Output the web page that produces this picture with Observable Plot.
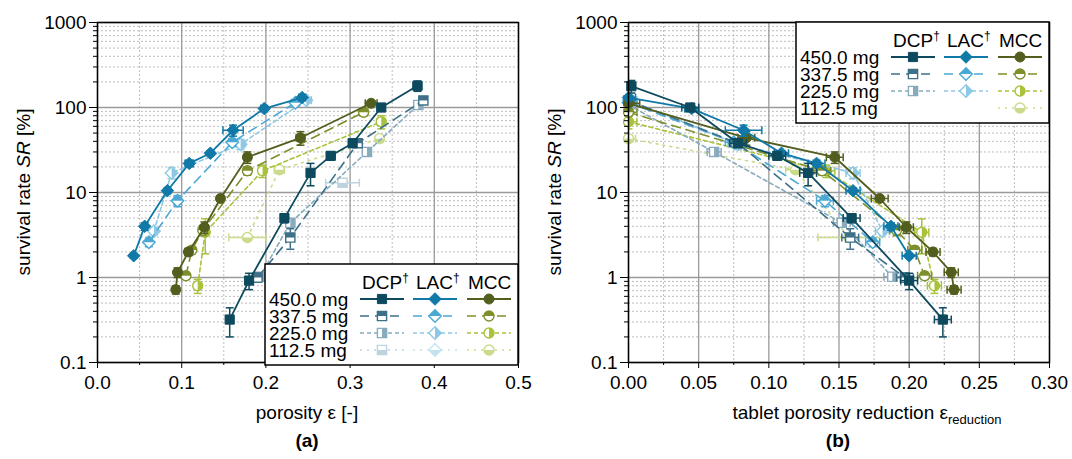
<!DOCTYPE html>
<html><head><meta charset="utf-8">
<script src="https://cdn.jsdelivr.net/npm/d3@7"></script>
<script src="https://cdn.jsdelivr.net/npm/@observablehq/plot@0.6"></script>
<style>
body{margin:0;background:#fff;}
#wrap{display:flex;width:1072px;height:459px;}
#wrap svg{font-family:"Liberation Sans",Arial,sans-serif;display:block;}
</style></head><body><div id="wrap"></div>
<script>
// ---------- data: [x, y, xErr, yErr] ----------
// panel (a): porosity
const A_DCP_450 = [[0.157,0.32,0.004,0.12],[0.180,0.92,0.004,0.2],[0.222,5.0,0.004,0.6],[0.253,17,0.004,5],[0.277,27,0.005,3],[0.303,38,0.004,4],[0.337,100,0.004,5],[0.380,180,0.005,25]];
const A_DCP_338 = [[0.190,1.0,0.004,0.12],[0.229,2.95,0.004,0.8],[0.309,38,0.004,4],[0.387,121,0.004,12]];
const A_DCP_225 = [[0.193,1.02,0.004,0.1],[0.229,4.4,0.005,0.4],[0.320,30,0.004,2],[0.381,107,0.004,8]];
const A_DCP_113 = [[0.291,13,0.02,1.2]];
const A_LAC_450 = [[0.043,1.8,0.002,0.1],[0.056,4.0,0.003,0.4],[0.083,10.5,0.003,0.8],[0.109,22,0.005,2],[0.134,29,0.003,2],[0.161,54,0.012,8],[0.198,97,0.004,5],[0.243,131,0.004,10]];
const A_LAC_338 = [[0.061,2.6,0.003,0.3],[0.095,8,0.004,1.2],[0.160,39,0.004,4],[0.235,114,0.005,8]];
const A_LAC_225 = [[0.067,3.5,0.003,0.3],[0.088,17,0.003,2.5],[0.170,37,0.005,5],[0.248,122,0.006,8]];
const A_LAC_113 = [];
const A_MCC_450 = [[0.093,0.72,0.003,0.08],[0.095,1.15,0.003,0.15],[0.108,2.0,0.004,0.2],[0.127,3.9,0.003,0.6],[0.146,8.5,0.003,0.6],[0.178,26,0.004,4],[0.241,44,0.005,8],[0.325,112,0.007,8]];
const A_MCC_338 = [[0.105,1.05,0.003,0.1],[0.112,2.1,0.003,0.2],[0.125,3.6,0.003,0.5],[0.178,18,0.004,2],[0.316,88,0.005,8]];
const A_MCC_225 = [[0.119,0.8,0.004,0.15],[0.128,3.4,0.003,1.5],[0.196,18,0.004,3],[0.337,68,0.005,12]];
const A_MCC_113 = [[0.178,2.95,0.022,0.2],[0.216,18.5,0.006,1.5],[0.335,43,0.004,4]];
// panel (b): tablet porosity reduction
const B_DCP_450 = [[0.002,178,0.003,30],[0.044,100,0.006,5],[0.078,38,0.006,4],[0.106,27,0.006,3],[0.128,17,0.006,5],[0.159,5.0,0.006,0.6],[0.200,0.92,0.006,0.2],[0.224,0.32,0.006,0.12]];
const B_DCP_338 = [[0.0,121,0.004,12],[0.078,38,0.005,4],[0.158,2.95,0.006,0.8],[0.197,1.0,0.006,0.12]];
const B_DCP_225 = [[0.0,107,0.004,8],[0.061,30,0.005,2],[0.152,4.4,0.006,0.4],[0.188,1.02,0.006,0.1]];
const B_LAC_450 = [[0.0,131,0.005,10],[0.045,97,0.005,5],[0.082,54,0.013,8],[0.109,29,0.005,2],[0.134,22,0.006,2],[0.160,10.5,0.005,0.8],[0.187,4.0,0.005,0.4],[0.200,1.8,0.005,0.1]];
const B_LAC_338 = [[0.0,114,0.006,8],[0.075,39,0.006,4],[0.140,8,0.006,1.2],[0.174,2.6,0.005,0.3]];
const B_LAC_225 = [[0.0,122,0.006,8],[0.078,37,0.007,5],[0.160,17,0.005,2.5],[0.181,3.5,0.005,0.3]];
const B_MCC_450 = [[0.0,112,0.008,8],[0.084,44,0.006,8],[0.147,26,0.006,4],[0.179,8.5,0.006,0.6],[0.198,3.9,0.005,0.6],[0.217,2.0,0.005,0.2],[0.230,1.15,0.005,0.15],[0.232,0.72,0.005,0.08]];
const B_MCC_338 = [[0.0,88,0.006,8],[0.138,18,0.006,2],[0.191,3.6,0.005,0.5],[0.204,2.1,0.005,0.2],[0.211,1.05,0.005,0.1]];
const B_MCC_225 = [[0.0,68,0.006,12],[0.141,18,0.006,3],[0.209,3.4,0.005,1.5],[0.218,0.8,0.005,0.15]];
const B_MCC_113 = [[0.0,43,0.005,4],[0.119,18.5,0.007,1.5],[0.157,2.95,0.022,0.2]];

// ---------- categories & tick labels ----------
const materials = ["DCP","LAC","MCC"];
const materialLabels = ["DCP","LAC","MCC"];
const materialDagger = [true,true,false];
const masses = ["450.0 mg","337.5 mg","225.0 mg","112.5 mg"];
const yTicks = [0.1,1,10,100,1000];
const yTickLabels = ["0.1","1","10","100","1000"];
const xTicksA = [0,0.1,0.2,0.3,0.4,0.5];
const xTickLabelsA = ["0.0","0.1","0.2","0.3","0.4","0.5"];
const xMinorA = [0.05,0.15,0.25,0.35,0.45];
const xTicksB = [0,0.05,0.1,0.15,0.2,0.25,0.3];
const xTickLabelsB = ["0.00","0.05","0.10","0.15","0.20","0.25","0.30"];
const xMinorB = [0.025,0.075,0.125,0.175,0.225,0.275];

// ---------- styles ----------
const COLORS = {DCP:["#0e4a5e","#3e7189","#88abbd","#bdd3dd"], LAC:["#1079a8","#4ba8d4","#8dc9e4","#c4e3f0"], MCC:["#525e1d","#7d902c","#a8c23c","#cbdb8c"]};
const DASH = [null,"9,6","4,3","2,5"];
const SHAPE = {DCP:"square", LAC:"diamond", MCC:"circle"};
const PART = ["full","top","right","bottom"];

const minorY = [];
for (const d of [0.1,1,10,100]) for (let k=2;k<=9;k++) minorY.push(+(d*k).toPrecision(3));

function sym(shape, part){
  return {draw(ctx, size){
    const r = Math.sqrt(size/Math.PI);
    if (shape==="square"){
      const s = r*0.92;
      if (part==="full") ctx.rect(-s,-s,2*s,2*s);
      else if (part==="top") ctx.rect(-s,-s,2*s,s);
      else if (part==="bottom") ctx.rect(-s,0,2*s,s);
      else ctx.rect(0,-s,s,2*s);
    } else if (shape==="diamond"){
      const d = r*1.25;
      if (part==="full"){ctx.moveTo(0,-d);ctx.lineTo(d,0);ctx.lineTo(0,d);ctx.lineTo(-d,0);ctx.closePath();}
      else if (part==="top"){ctx.moveTo(-d,0);ctx.lineTo(0,-d);ctx.lineTo(d,0);ctx.closePath();}
      else if (part==="bottom"){ctx.moveTo(-d,0);ctx.lineTo(0,d);ctx.lineTo(d,0);ctx.closePath();}
      else {ctx.moveTo(0,-d);ctx.lineTo(d,0);ctx.lineTo(0,d);ctx.closePath();}
    } else {
      if (part==="full"){ctx.moveTo(r,0);ctx.arc(0,0,r,0,2*Math.PI);}
      else if (part==="top"){ctx.moveTo(-r,0);ctx.arc(0,0,r,Math.PI,2*Math.PI);ctx.closePath();}
      else if (part==="bottom"){ctx.moveTo(r,0);ctx.arc(0,0,r,0,Math.PI);ctx.closePath();}
      else {ctx.moveTo(0,-r);ctx.arc(0,0,r,-Math.PI/2,Math.PI/2);ctx.closePath();}
    }
  }};
}
const hcap = {draw(ctx,size){const w=Math.sqrt(size/Math.PI);ctx.moveTo(-w,0);ctx.lineTo(w,0);}};
const vcap = {draw(ctx,size){const w=Math.sqrt(size/Math.PI);ctx.moveTo(0,-w);ctx.lineTo(0,w);}};

function seriesMarks(data, mat, mi){
  const c = COLORS[mat][mi];
  const X = d=>d[0], Y = d=>d[1];
  const m = [];
  m.push(Plot.line(data,{x:X,y:Y,stroke:c,strokeWidth:mi===0?1.8:1.6,strokeDasharray:DASH[mi],clip:true}));
  m.push(Plot.ruleX(data,{x:X,y1:d=>d[1]-d[3],y2:d=>d[1]+d[3],stroke:c,strokeWidth:1.5,clip:true}));
  m.push(Plot.ruleY(data,{y:Y,x1:d=>d[0]-d[2],x2:d=>d[0]+d[2],stroke:c,strokeWidth:1.5,clip:true}));
  m.push(Plot.dot(data,{x:X,y:d=>d[1]-d[3],symbol:hcap,r:4,stroke:c,fill:"none",strokeWidth:1.5,clip:true}));
  m.push(Plot.dot(data,{x:X,y:d=>d[1]+d[3],symbol:hcap,r:4,stroke:c,fill:"none",strokeWidth:1.5,clip:true}));
  m.push(Plot.dot(data,{x:d=>d[0]-d[2],y:Y,symbol:vcap,r:4,stroke:c,fill:"none",strokeWidth:1.5,clip:true}));
  m.push(Plot.dot(data,{x:d=>d[0]+d[2],y:Y,symbol:vcap,r:4,stroke:c,fill:"none",strokeWidth:1.5,clip:true}));
  const shape = SHAPE[mat], part = PART[mi];
  if (part==="full"){
    m.push(Plot.dot(data,{x:X,y:Y,symbol:sym(shape,"full"),r:5,fill:c,stroke:c,strokeWidth:1}));
  } else {
    m.push(Plot.dot(data,{x:X,y:Y,symbol:sym(shape,"full"),r:5,fill:"white",stroke:c,strokeWidth:1.4}));
    m.push(Plot.dot(data,{x:X,y:Y,symbol:sym(shape,part),r:5,fill:c,stroke:"none"}));
  }
  return m;
}

function drawLegend(svg, bx, by, rows){
  const g = d3.select(svg).append("g").attr("font-family","Liberation Sans, Arial, sans-serif").attr("font-size",19).attr("text-anchor","start").attr("fill","black");
  g.append("rect").attr("x",bx).attr("y",by).attr("width",253).attr("height",101).attr("fill","white").attr("stroke","black").attr("stroke-width",1.5);
  const colStart = [95,148,202];
  const hdrX = [97,151,203];
  materials.forEach((m,j)=>{
    const t = g.append("text").attr("x",bx+hdrX[j]).attr("y",by+25).attr("text-anchor","start");
    t.append("tspan").text(materialLabels[j]);
    if (materialDagger[j]) t.append("tspan").attr("font-size",12).attr("dy",-7).text("\u2020");
  });
  masses.forEach((lab,i)=>{
    const cy = by+35+i*17;
    g.append("text").attr("x",bx+4).attr("y",cy+7).attr("text-anchor","start").text(lab);
    materials.forEach((m,j)=>{
      if (!rows[i].includes(m)) return;
      const c = COLORS[m][i];
      const x0 = bx+colStart[j], x1 = x0+44;
      g.append("line").attr("x1",x0).attr("x2",x1).attr("y1",cy).attr("y2",cy).attr("stroke",c).attr("stroke-width",i===0?1.8:1.6).attr("stroke-dasharray",DASH[i]);
      const cx = (x0+x1)/2;
      const pf = d3.path(); sym(SHAPE[m],"full").draw(pf,25*Math.PI);
      if (PART[i]==="full"){
        g.append("path").attr("d",pf.toString()).attr("transform",`translate(${cx},${cy})`).attr("fill",c).attr("stroke",c);
      } else {
        g.append("path").attr("d",pf.toString()).attr("transform",`translate(${cx},${cy})`).attr("fill","white").attr("stroke",c).attr("stroke-width",1.4);
        const pp = d3.path(); sym(SHAPE[m],PART[i]).draw(pp,25*Math.PI);
        g.append("path").attr("d",pp.toString()).attr("transform",`translate(${cx},${cy})`).attr("fill",c);
      }
    });
  });
}

function panel(opts){
  const {series, xDomain, xMajor, xMajorLabels, xMinor, marginLeft, marginRight} = opts;
  const marks = [
    Plot.gridY(minorY,{stroke:"#b5b5b5",strokeOpacity:1,strokeDasharray:"2,2",strokeWidth:0.9}),
    Plot.gridX(xMinor,{stroke:"#b5b5b5",strokeOpacity:1,strokeDasharray:"2,2",strokeWidth:0.9}),
    Plot.gridY(yTicks,{stroke:"#9a9a9a",strokeOpacity:1,strokeWidth:1.3}),
    Plot.gridX(xMajor,{stroke:"#9a9a9a",strokeOpacity:1,strokeWidth:1.3})
  ];
  for (const s of series) marks.push(...seriesMarks(s.data, s.mat, s.mi));
  marks.push(
    Plot.axisY(yTicks,{tickFormat:d=>yTickLabels[yTicks.indexOf(d)],tickSize:8,tickPadding:3,fontSize:19,label:null}),
    Plot.axisY(minorY,{tickFormat:()=>"",tickSize:4,label:null}),
    Plot.axisX(xMajor,{tickFormat:d=>xMajorLabels[xMajor.indexOf(d)],tickSize:6,tickPadding:7,fontSize:19,label:null}),
    Plot.axisX(xMinor,{tickFormat:()=>"",tickSize:3,label:null}),
    Plot.frame({stroke:"black",strokeWidth:1.5})
  );
  return Plot.plot({
    width:536, height:459, marginTop:22, marginBottom:97, marginLeft, marginRight,
    style:{fontFamily:"Liberation Sans, Arial, sans-serif",fontSize:"19px",color:"black",background:"white"},
    x:{domain:xDomain},
    y:{type:"log",domain:[0.1,1000]},
    marks
  });
}

function S(mat, mi, data){ return {mat, mi, data}; }

const svgA = panel({
  series:[S("MCC",3,A_MCC_113),S("LAC",3,A_LAC_113),S("DCP",3,A_DCP_113),
          S("MCC",2,A_MCC_225),S("LAC",2,A_LAC_225),S("DCP",2,A_DCP_225),
          S("MCC",1,A_MCC_338),S("LAC",1,A_LAC_338),S("DCP",1,A_DCP_338),
          S("MCC",0,A_MCC_450),S("LAC",0,A_LAC_450),S("DCP",0,A_DCP_450)],
  xDomain:[0,0.5], xMajor:xTicksA, xMajorLabels:xTickLabelsA, xMinor:xMinorA, marginLeft:97, marginRight:18
});
const svgB = panel({
  series:[S("MCC",3,B_MCC_113),
          S("MCC",2,B_MCC_225),S("LAC",2,B_LAC_225),S("DCP",2,B_DCP_225),
          S("MCC",1,B_MCC_338),S("LAC",1,B_LAC_338),S("DCP",1,B_DCP_338),
          S("MCC",0,B_MCC_450),S("LAC",0,B_LAC_450),S("DCP",0,B_DCP_450)],
  xDomain:[0,0.3], xMajor:xTicksB, xMajorLabels:xTickLabelsB, xMinor:xMinorB, marginLeft:92, marginRight:23
});

function titles(svg, ylx, xlabel, xlx, sub, tag, tagx){
  const g = d3.select(svg).append("g").attr("font-family","Liberation Sans, Arial, sans-serif").attr("font-size",19).attr("fill","black");
  const yl = g.append("text").attr("transform",`translate(${ylx},192) rotate(-90)`).attr("text-anchor","middle");
  yl.append("tspan").text("survival rate ");
  yl.append("tspan").attr("font-style","italic").text("SR");
  yl.append("tspan").text(" [%]");
  const xl = g.append("text").attr("x",xlx).attr("y",419).attr("text-anchor","middle");
  xl.append("tspan").text(xlabel);
  if (sub) xl.append("tspan").attr("font-size",13).attr("dy",5).text(sub);
  g.append("text").attr("x",tagx).attr("y",447).attr("text-anchor","middle").attr("font-weight","bold").text(tag);
}
titles(svgA, 30, "porosity \u03b5 [-]", 307, null, "(a)", 307);
titles(svgB, 25, "tablet porosity reduction \u03b5", 331, "reduction", "(b)", 302);

drawLegend(svgA, 265, 264, [["DCP","LAC","MCC"],["DCP","LAC","MCC"],["DCP","LAC","MCC"],["DCP","LAC","MCC"]]);
drawLegend(svgB, 796-536, 22, [["DCP","LAC","MCC"],["DCP","LAC","MCC"],["DCP","LAC","MCC"],["MCC"]]);

document.getElementById("wrap").append(svgA, svgB);
</script></body></html>
